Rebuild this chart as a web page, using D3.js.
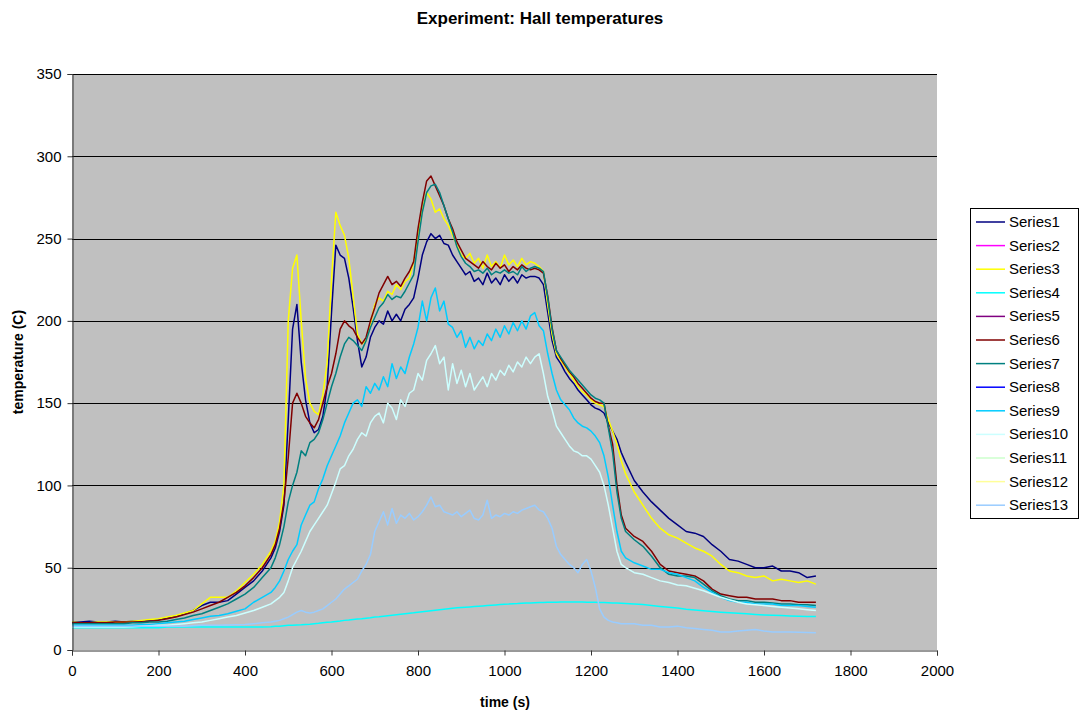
<!DOCTYPE html>
<html><head><meta charset="utf-8">
<script src="https://cdn.jsdelivr.net/npm/d3@7"></script>
<style>body{margin:0;background:#fff;font-family:"Liberation Sans",Arial,sans-serif;}</style>
</head><body><svg id="c" width="1080" height="714"></svg>
<script>
const title = "Experiment: Hall temperatures";
const xLabel = "time (s)";
const yLabel = "temperature (C)";
const xTicks = [0,200,400,600,800,1000,1200,1400,1600,1800,2000];
const yTicks = [0,50,100,150,200,250,300,350];

const time = [
 0,20,40,60,80,100,120,140,160,180,200,220,240,260,280,300,320,340,360,380,400,420,440,460,
 470,480,490,500,510,520,530,540,550,560,570,580,590,600,610,620,630,640,650,660,670,680,690,700,
 710,720,730,740,750,760,770,780,790,800,810,820,830,840,850,860,870,880,890,900,910,920,930,940,950,960,970,980,990,1000,1010,1020,1030,1040,1050,1060,
 1070,1080,1090,1100,1110,1120,1130,1140,1150,1160,1170,1180,1190,1200,1210,1220,1230,1240,1250,1260,1270,1280,
 1300,1320,1340,1360,1380,1400,1420,1440,1460,1480,1500,1520,1540,1560,1580,1600,1620,1640,1660,1680,1700,1720];

const series1 = [
 17,17,17.5,17,17,17.5,17,17.5,17.5,18,18.5,19.5,20.5,22,24,27,29,29,30,34,38,42,48,56,
 62,72,88,140,195,210,175,152,138,132,134,142,160,205,246,240,238,226,208,188,172,178,190,196,
 200,198,206,200,204,200,207,210,214,226,240,248,253,250,252,247,246,240,236,232,228,230,224,226,222,229,223,226,222,228,224,227,223,228,226,227,
 227,226,222,205,188,178,174,169,165,162,158,155,152,149,147,146,144,138,133,128,120,114,
 103,96,90,85,80,76,72,71,69,64,60,55,54,52,50,50,51,48,48,47,44,45];
const series2 = [];
const series3 = [
 17,16.5,16.5,17,17,17,17,17.5,18,18.5,19,20,21,22.5,24,28,32,32,32,36,41,46,52,60,
 66,78,100,200,232,240,200,165,150,145,143,155,175,225,266,258,252,238,215,192,186,188,198,210,
 214,212,218,216,222,219,224,226,236,252,268,278,274,266,268,262,258,252,246,240,238,241,235,238,232,240,233,236,232,240,234,237,233,238,234,236,
 235,233,230,210,192,180,176,172,168,164,160,157,155,152,150,149,148,140,133,125,115,107,
 96,88,80,74,70,68,65,62,60,57,52,48,47,45,44,45,42,43,42,41,42,40];
const series4 = [
 13.5,13.5,13.5,13.5,13.5,13.5,13.5,13.5,13.5,13.5,13.5,14,14,14,14,14,14,14,14,14,14,14,14,14.2,
 14.5,14.5,14.8,15,15,15.2,15.3,15.5,15.7,16,16.2,16.5,16.8,17,17.3,17.6,18,18.2,18.5,18.8,19,19.3,19.6,20,
 20.2,20.5,20.8,21.1,21.4,21.7,22,22.3,22.6,23,23.3,23.6,23.9,24.2,24.5,24.8,25.1,25.4,25.6,25.8,26,26.2,26.4,26.6,26.8,27,27.2,27.4,27.6,27.8,27.9,28.1,28.2,28.4,28.5,28.6,
 28.7,28.8,28.9,29,29,29,29.1,29.1,29.1,29.1,29.1,29.1,29,29,29,28.9,28.8,28.7,28.6,28.5,28.4,28.3,
 28,27.6,27,26.5,26,25.5,24.8,24.3,23.8,23.4,23,22.6,22.3,22,21.6,21.3,21.1,20.9,20.7,20.5,20.4,20.3];
const series5 = [];
const series6 = [
 16.5,16.5,16.5,16.5,16.5,17,17,17,17,17.5,18,19,20,21.5,23,25,27,29,32,35,39,44,50,58,
 64,74,90,117,150,156,150,142,138,135,140,150,160,168,180,195,200,197,195,190,186,190,200,208,
 217,222,227,222,224,221,226,230,236,256,272,285,288,282,276,270,262,256,248,243,238,236,234,232,236,233,231,235,232,234,230,233,231,234,232,231,
 232,231,229,215,196,182,177,173,169,166,162,159,156,153,151,150,150,136,125,100,82,74,
 69,66,60,52,48,47,46,45,42,37,34,33,32,32,31,31,31,30,30,29,29,29];
const series7 = [
 16,16,16,16,16,16,16,16.5,16.5,17,17,17.5,18.5,19.5,21,22,24,26,28,31,34,38,44,50,
 56,64,75,90,100,108,121,118,126,128,132,140,150,160,168,178,186,190,188,185,182,188,196,202,
 208,211,216,213,215,214,218,223,228,248,266,278,282,283,278,270,262,254,245,239,235,233,230,231,229,232,228,230,229,231,229,230,228,233,230,232,
 233,232,230,214,195,182,178,174,170,167,164,161,158,155,153,152,150,135,120,96,80,72,
 67,63,57,50,46,45,45,44,40,36,33,31,30,30,29,29,28.5,28,28,27.5,27.5,27];
const series8 = [];
const series9 = [
 15,15,15,15,15,15,15,15,15.5,15.5,16,16.5,17,17.5,18.5,19.5,20.5,21,22,23.5,25,29,32,35,
 38,42,48,55,60,64,76,82,88,90,98,104,112,118,124,130,138,144,150,152,148,160,156,162,
 158,166,160,174,165,172,168,178,186,196,212,200,214,220,206,212,198,196,190,194,184,190,183,188,185,192,188,195,190,197,192,199,194,200,195,203,
 205,197,194,180,168,158,152,149,146,141,138,136,135,133,130,126,118,105,88,72,60,56,
 53,51,49,49,47,46,44,42,38,35,32,30,29,29,28,28,28,27,27,27,26.5,26];
const series10 = [
 14,14,14,14,14,14,14,14.2,14.5,14.8,15,15,15.5,16,16.5,17,18,19,20,21,22.5,24,26,28,
 30,32,35,42,50,55,60,66,72,76,80,84,88,95,102,110,112,118,122,128,132,130,138,142,
 144,138,150,147,140,152,148,156,158,168,164,176,180,185,174,178,158,174,162,170,160,168,158,162,166,160,168,164,170,167,173,169,175,172,178,174,
 178,180,168,154,146,136,132,128,124,121,120,118,118,116,112,108,100,88,74,60,52,50,
 47,46,44,42,41,39.5,39,37.5,36,34,32,30.5,29,28,27.5,27,26.5,26,25.5,25,24.5,24];
const series11 = [];
const series12 = [];
const series13 = [
 14.5,14.5,14.5,14.5,14.5,14.5,14.5,14.5,14.5,14.5,14.5,14.5,14.5,14.5,14.8,15,15,15,15.2,15.3,15.5,16,16.5,17,
 17.5,18,19,20,21.5,23,24,23,22.5,23,24,25,27,29,31,34,37,39,41,43,48,52,58,72,
 78,84,76,86,77,82,80,83,79,81,84,88,93,87,88,84,83,82,84,81,83,85,80,79,82,91,80,82,81,83,82,84,83,85,86,87,
 88,85,84,80,74,63,58,55,52,50,47,52,55,48,38,25,20,18,17,16.5,16,16,
 16,15,15,14,14,14.5,13.5,13,12.5,12,11,11,11.5,12,12.5,11.5,11,11,11,10.8,10.6,10.5];

const seriesNames = ["Series1","Series2","Series3","Series4","Series5","Series6","Series7","Series8","Series9","Series10","Series11","Series12","Series13"];
const seriesValues = [series1,series2,series3,series4,series5,series6,series7,series8,series9,series10,series11,series12,series13];
const seriesColors = ["#000080","#FF00FF","#FFFF00","#00FFFF","#800080","#800000","#008080","#0000FF","#00CCFF","#CCFFFF","#CCFFCC","#FFFF99","#99CCFF"];

const svg = d3.select("#c");
const m = {l:72, r:143, t:74, b:64};
const W = 1080, H = 714;
const x = d3.scaleLinear().domain([0,2000]).range([m.l, W - m.r]);
const y = d3.scaleLinear().domain([0,350]).range([H - m.b, m.t]);

svg.append("rect").attr("x", x(0)).attr("y", y(350)).attr("width", x(2000)-x(0)).attr("height", y(0)-y(350)).attr("fill", "#C0C0C0");

svg.append("g").selectAll("line").data(yTicks.filter(d => d > 0)).join("line")
  .attr("x1", x(0)).attr("x2", x(2000)).attr("y1", d => Math.round(y(d)) + 0.5).attr("y2", d => Math.round(y(d)) + 0.5)
  .attr("stroke", "#000").attr("stroke-width", 1);

const line = d3.line().defined(d => d[1] != null).x(d => x(d[0])).y(d => y(d[1]));
const g = svg.append("g");
seriesValues.forEach((vals, i) => {
  if (!vals.length) return;
  const pts = vals.map((v, j) => [time[j], v]);
  g.append("path").datum(pts).attr("d", line).attr("fill", "none")
    .attr("stroke", seriesColors[i]).attr("stroke-width", 1.5).attr("stroke-linejoin", "round");
});

const xAxis = svg.append("g").attr("transform", `translate(0,${Math.round(y(0)) + 0.5})`)
  .call(d3.axisBottom(x).tickValues(xTicks).tickSize(5).tickPadding(10).tickFormat(d3.format("d")));
const yAxis = svg.append("g").attr("transform", `translate(${Math.round(x(0)) + 0.5},0)`)
  .call(d3.axisLeft(y).tickValues(yTicks).tickSize(5).tickPadding(6).tickFormat(d3.format("d")));
[xAxis, yAxis].forEach(a => {
  a.select(".domain").attr("stroke", "#333");
  a.selectAll(".tick line").attr("stroke", "#333");
  a.selectAll("text").attr("font-family", "Liberation Sans, Arial, sans-serif").attr("font-size", 15).attr("fill", "#000");
});

svg.append("text").attr("x", 540).attr("y", 24).attr("text-anchor", "middle")
  .attr("font-size", 17).attr("font-weight", "bold").text(title);
svg.append("text").attr("x", 505).attr("y", 707).attr("text-anchor", "middle")
  .attr("font-size", 14).attr("font-weight", "bold").text(xLabel);
svg.append("text").attr("transform", `translate(23,${y(175)}) rotate(-90)`).attr("text-anchor", "middle")
  .attr("font-size", 14).attr("font-weight", "bold").text(yLabel);

const lg = svg.append("g");
lg.append("rect").attr("x", 970.5).attr("y", 208.5).attr("width", 108).attr("height", 310)
  .attr("fill", "#fff").attr("stroke", "#000");
seriesNames.forEach((n, i) => {
  const yy = 222 + i * 23.6;
  lg.append("line").attr("x1", 976).attr("x2", 1005).attr("y1", yy).attr("y2", yy)
    .attr("stroke", seriesColors[i]).attr("stroke-width", 1.5);
  lg.append("text").attr("x", 1009).attr("y", yy + 5).attr("font-size", 15).text(n);
});
</script></body></html>
